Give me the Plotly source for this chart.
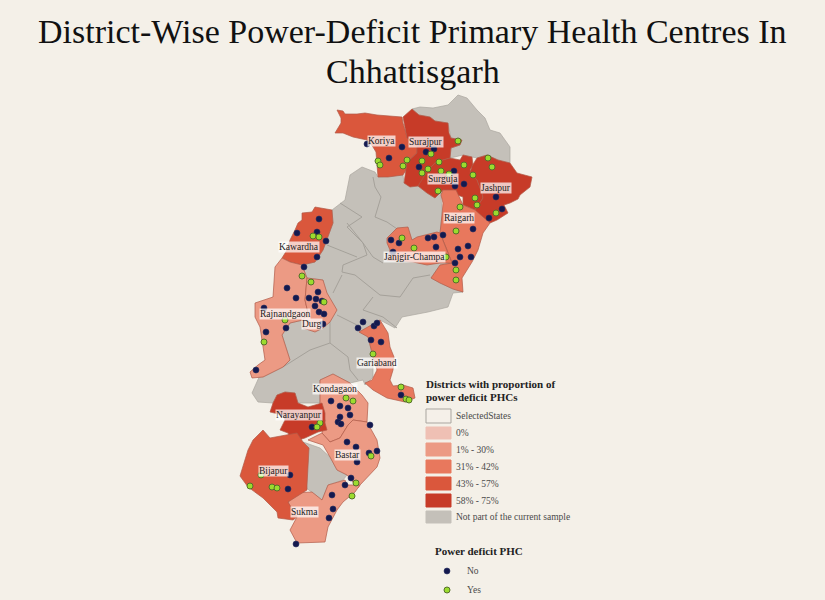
import plotly.graph_objects as go

BG = "#f4f0e8"
FONT = "Liberation Serif"

title_lines = [("District-Wise Power-Deficit Primary Health Centres In", 31), ("Chhattisgarh", 71)]

# district outlines (x, y in picture pixels)
state_base = [(332,210),(345,200),(350,175),(362,167),(375,172),(378,177),(403,175),(404,183),(418,186),
              (427,193),(435,198),(443,190),(441,195),(442,215),(440,233),(447,250),(452,263),(440,265),
              (431,278),(440,283),(453,289),(463,292),(453,293),(448,307),(428,312),(402,317),(395,328),
              (380,320),(368,337),(373,357),(373,377),(365,385),(363,380),(350,383),(333,374),(320,380),
              (320,403),(298,403),(295,393),(285,392),(277,395),(273,403),(258,402),(252,393),(260,375),
              (263,377),(283,367),(290,360),(282,335),(290,323),(303,320),(323,280),(307,278),(302,265),
              (315,262),(323,250),(327,240),(333,223)]
north_grey = [(412,109),(420,107),(433,108),(448,105),(458,95),(467,98),(477,110),(485,118),(490,130),
              (500,133),(510,147),(510,163),(498,160),(487,155),(477,158),(472,157),(463,155),(450,158),
              (451,148),(460,145),(462,140),(451,138),(448,123),(435,121),(430,117),(419,115)]
south_grey = [(303,442),(320,448),(330,457),(337,470),(347,475),(343,480),(328,485),(322,500),(305,487),(308,460)]

koriya = [(337,110),(343,111),(345,114),(357,114),(365,113),(377,115),(402,117),(403,123),(406,133),(407,138),
          (417,147),(417,153),(407,162),(406,170),(403,175),(388,177),(378,177),(377,162),(376,152),(373,147),
          (367,140),(353,137),(343,133),(335,133),(341,123),(341,118)]
surajpur = [(403,117),(412,109),(419,115),(430,117),(435,121),(448,123),(449,133),(451,138),(462,140),(460,145),
            (451,148),(450,158),(443,160),(435,163),(428,170),(425,178),(418,186),(410,187),(404,183),(407,162),
            (417,153),(417,147),(407,138),(406,133)]
surguja = [(450,158),(460,160),(463,155),(472,157),(473,165),(470,170),(477,180),(482,193),(483,198),(478,205),
           (475,210),(463,205),(463,197),(443,190),(435,198),(427,193),(418,186),(428,170),(435,163),(443,160)]
jashpur = [(472,166),(477,158),(487,155),(498,160),(510,163),(517,173),(532,177),(530,187),(520,195),(518,199),
           (510,203),(504,205),(508,213),(497,220),(490,223),(483,218),(475,210),(478,205),(483,198),(482,193),
           (477,180),(470,173)]
raigarh = [(443,190),(456,190),(463,205),(475,210),(490,223),(483,233),(478,250),(472,262),(467,270),(462,278),
           (463,292),(453,289),(440,283),(431,278),(440,265),(452,263),(447,250),(440,233),(442,215),(443,203),(441,195)]
janjgir = [(387,238),(397,228),(408,227),(412,240),(417,237),(437,232),(440,233),(447,250),(452,263),(440,263),
           (427,265),(413,262),(387,260),(390,250),(387,243)]
kawardha = [(302,213),(312,212),(315,207),(332,210),(333,223),(327,240),(323,250),(315,262),(302,265),(290,262),
            (282,258),(287,250),(290,240),(295,230),(298,223),(302,220)]
rajnandgaon = [(282,258),(290,262),(302,265),(307,278),(305,300),(308,313),(303,320),(290,323),(282,335),(290,360),
               (283,367),(263,377),(252,378),(250,372),(258,365),(265,360),(262,340),(260,327),(255,317),(255,303),
               (273,297),(275,267)]
durg = [(307,278),(323,280),(327,293),(337,310),(330,322),(323,328),(315,332),(303,328),(303,320),(308,313),(305,300)]
gariaband = [(359,332),(372,325),(380,320),(388,333),(390,347),(394,357),(393,370),(390,380),(393,386),(403,385),(413,388),
             (415,398),(405,402),(387,398),(373,390),(365,383),(372,380),(377,370),(373,357),(368,337)]
kondagaon = [(320,380),(333,374),(350,383),(362,395),(368,403),(367,422),(353,420),(348,425),(340,438),(330,442),
             (322,433),(325,420),(320,413),(320,403),(320,390)]
narayanpur = [(273,403),(277,395),(285,392),(295,393),(298,403),(308,407),(322,403),(325,413),(325,423),(327,430),
              (318,432),(305,438),(292,442),(288,433),(280,430),(285,420),(283,415),(270,412)]
bastar = [(308,440),(322,433),(330,442),(340,438),(348,425),(353,420),(367,422),(377,440),(380,458),(377,467),
          (360,485),(358,488),(347,475),(337,470),(330,457),(323,445)]
sukma = [(288,503),(292,493),(312,492),(322,500),(328,485),(345,480),(347,485),(360,485),(355,492),(343,502),
         (337,510),(328,527),(325,542),(297,543),(290,530),(297,517)]
bijapur = [(240,476),(248,450),(253,440),(263,430),(270,438),(297,433),(303,442),(309,448),(307,485),(307,490),
           (288,502),(297,517),(293,520),(278,518),(277,512),(263,498),(248,487)]

# borders between the districts outside the sample
grey_borders = [
    [(373,177),(375,187),(381,197),(375,217),(387,222),(403,233)],
    [(347,223),(363,243),(367,255),(343,265),(342,272),(355,275),(380,295),(400,297),(413,278),(430,275)],
    [(363,243),(373,257),(383,263)],
    [(327,245),(357,257)],
    [(333,293),(342,275)],
    [(337,315),(357,325)],
    [(363,310),(373,297)],
    [(363,310),(383,317),(397,328)],
    [(330,322),(330,343),(310,350),(283,367)],
    [(330,343),(348,357),(350,370),(358,380)],
    [(340,203),(362,217),(347,227),(363,243)],
]

# proportion classes
class_names = ["SelectedStates", "0%", "1% - 30%", "31% - 42%", "43% - 57%", "58% - 75%", "Not part of the current sample"]
class_colors = ["#f5f0e9", "#efc0b4", "#ec9a84", "#e8785d", "#da573c", "#c73b28", "#c4c0b9"]

districts = [
    (koriya, 4), (surajpur, 5), (surguja, 5), (jashpur, 5), (raigarh, 3), (janjgir, 3), (kawardha, 4),
    (rajnandgaon, 2), (durg, 2), (gariaband, 3), (kondagaon, 2), (narayanpur, 5), (bastar, 2), (sukma, 2), (bijapur, 4),
]

phc_no = [(367,144),(389,158),(402,147),(426,152),(434,149),(419,167),(454,171),(455,186),(464,184),(496,197),
          (502,209),(489,218),(473,229),(443,235),(434,237),(428,238),(436,247),(468,246),(458,249),(319,219),
          (297,233),(317,232),(326,241),(317,257),(304,267),(391,240),(399,243),(393,252),(460,257),(471,257),
          (455,263),(287,288),(296,298),(309,298),(318,292),(316,299),(322,301),(315,306),(319,312),(324,314),
          (264,308),(323,324),(286,328),(266,332),(256,370),(363,322),(358,328),(374,326),(377,323),(371,340),
          (381,342),(401,395),(331,401),(340,406),(348,408),(350,415),(340,417),(338,422),(341,424),(312,427),
          (370,425),(347,442),(356,447),(369,453),(377,451),(357,462),(290,475),(288,489),(351,478),(345,485),
          (332,495),(333,509),(329,518),(296,544)]
phc_yes = [(458,141),(378,161),(380,165),(407,160),(403,166),(422,161),(431,154),(439,162),(428,169),(422,173),
           (441,171),(449,174),(464,165),(473,175),(488,158),(492,167),(438,191),(475,198),(477,205),(496,213),
           (460,207),(456,231),(402,238),(414,248),(313,236),(319,237),(446,257),(456,270),(456,280),(302,276),
           (311,282),(324,302),(285,320),(264,342),(373,354),(401,387),(406,399),(409,400),(346,398),(353,401),
           (320,423),(317,427),(371,456),(250,486),(261,475),(272,487),(277,488),(356,483),(352,496)]

labels = [("Koriya",381,141),("Surajpur",426,142),("Surguja",443,179),("Jashpur",496,188),("Raigarh",459,218),
          ("Janjgir-Champa",414,257),("Kawardha",299,247),("Rajnandgaon",285,314),("Durg",312,324),
          ("Gariaband",377,363),("Kondagaon",335,389),("Narayanpur",299,415),("Bastar",347,455),("Bijapur",273,471),("Sukma",304,512)]

fig = go.Figure()


def add_poly(pts, color, line="#b05a48", width=0.7):
    fig.add_trace(go.Scatter(x=[p[0] for p in pts] + [pts[0][0]], y=[p[1] for p in pts] + [pts[0][1]],
                             mode="lines", fill="toself", fillcolor=color,
                             line=dict(color=line, width=width), hoverinfo="skip", showlegend=False))


for poly in [state_base, north_grey, south_grey]:
    add_poly(poly, class_colors[6], line="#aaa69f")
for line_pts in grey_borders:
    fig.add_trace(go.Scatter(x=[p[0] for p in line_pts], y=[p[1] for p in line_pts], mode="lines",
                             line=dict(color="#a5a19a", width=1), hoverinfo="skip", showlegend=False))
for poly, cls in districts:
    add_poly(poly, class_colors[cls])

fig.add_trace(go.Scatter(x=[p[0] for p in phc_no] + [447], y=[p[1] for p in phc_no] + [571], mode="markers",
                         marker=dict(size=6, color="#14194f", line=dict(color="#2a3060", width=0.6)),
                         hoverinfo="skip", showlegend=False))
fig.add_trace(go.Scatter(x=[p[0] for p in phc_yes] + [447], y=[p[1] for p in phc_yes] + [590], mode="markers",
                         marker=dict(size=6, color="#9bdc2e", line=dict(color="#55702a", width=1)),
                         hoverinfo="skip", showlegend=False))

for name, x, y in labels:
    fig.add_annotation(x=x, y=y, text=name, showarrow=False, bgcolor="rgba(255,255,255,0.72)", borderpad=0,
                       font=dict(family=FONT, size=9.5, color="#222222"))

# legend block
swatch_top = [409, 427, 443, 460, 477, 494, 511]
swatch_bottom = [423, 439, 456, 473, 490, 507, 523]
for name, col, y0, y1 in zip(class_names, class_colors, swatch_top, swatch_bottom):
    fig.add_shape(type="rect", x0=426, x1=451, y0=y0, y1=y1, fillcolor=col,
                  line=dict(color="#a9a59f" if name == "SelectedStates" else col, width=1))
    fig.add_annotation(x=454, y=(y0 + y1) / 2, text=name, showarrow=False, xanchor="left",
                       font=dict(family=FONT, size=9.5, color="#4a4a4a"))
for text, x, y in [("Districts with proportion of", 424, 384), ("power deficit PHCs", 424, 397), ("Power deficit PHC", 433, 551)]:
    fig.add_annotation(x=x, y=y, text="<b>" + text + "</b>", showarrow=False, xanchor="left",
                       font=dict(family=FONT, size=11, color="#222222"))
for text, y in [("No", 571), ("Yes", 590)]:
    fig.add_annotation(x=465, y=y, text=text, showarrow=False, xanchor="left",
                       font=dict(family=FONT, size=9.5, color="#4a4a4a"))

for text, y in title_lines:
    fig.add_annotation(x=412.5, y=y, text=text, showarrow=False, xanchor="center",
                       font=dict(family=FONT, size=34, color="#111111"))

fig.update_layout(
    width=825, height=600, margin=dict(l=0, r=0, t=0, b=0),
    paper_bgcolor=BG, plot_bgcolor=BG,
    xaxis=dict(range=[0, 825], visible=False, fixedrange=True),
    yaxis=dict(range=[600, 0], visible=False, fixedrange=True),
)
fig.write_html("out.html", config={"displayModeBar": False}, post_script="document.body.style.margin='0';document.body.style.background='" + BG + "';")
